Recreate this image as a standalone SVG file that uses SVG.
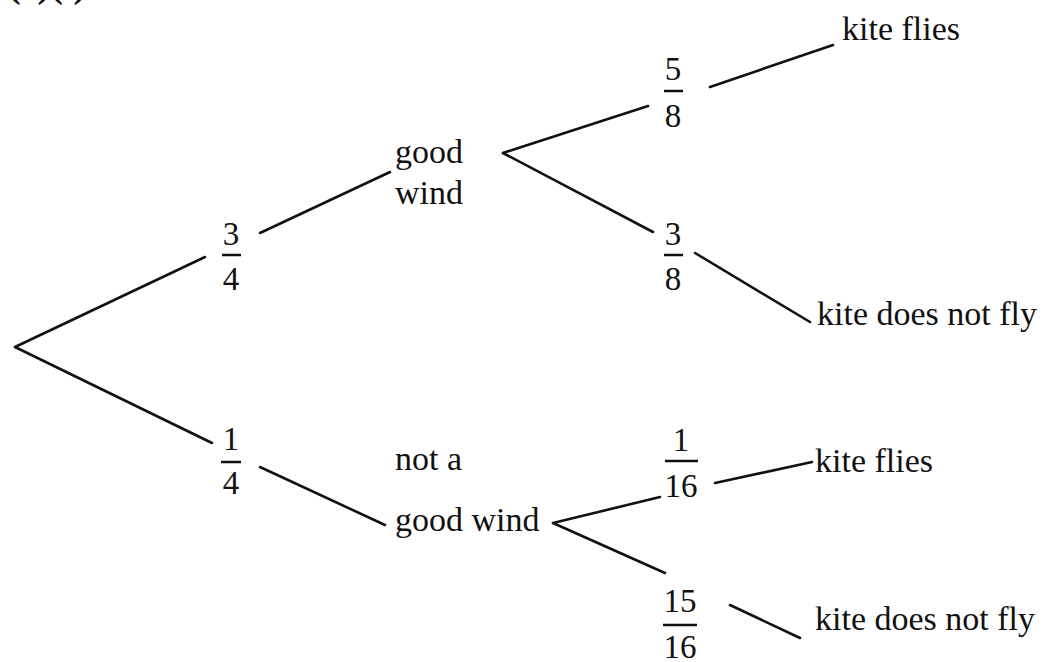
<svg xmlns="http://www.w3.org/2000/svg" width="1047" height="662" viewBox="0 0 1047 662">
<style>
.t{font-family:"Liberation Serif","Times New Roman",serif;font-size:34px;fill:#111}
.f{font-family:"Liberation Serif","Times New Roman",serif;font-size:33px;fill:#111;text-anchor:middle}
.bar{stroke:#111;stroke-width:2.5}
.c line{stroke:#111;stroke-width:2.6;stroke-linecap:round}
</style>
<rect width="1047" height="662" fill="#fff"/>
<text x="8" y="-3" style="font-family:'Liberation Serif',serif;font-size:38px;font-weight:bold;fill:#111">(c)(i)</text>
<g id="connectors" class="c">
<line x1="15" y1="347" x2="205" y2="257"/>
<line x1="15" y1="347" x2="212" y2="443"/>
<line x1="260" y1="233" x2="390" y2="172"/>
<line x1="260" y1="467" x2="385" y2="525"/>
<line x1="503" y1="153" x2="648" y2="106"/>
<line x1="503" y1="153" x2="653" y2="232"/>
<line x1="710" y1="87" x2="833" y2="45"/>
<line x1="695" y1="253" x2="810" y2="322"/>
<line x1="553" y1="523" x2="660" y2="497"/>
<line x1="553" y1="523" x2="665" y2="573"/>
<line x1="715" y1="483" x2="812" y2="462"/>
<line x1="730" y1="605" x2="800" y2="638"/>
</g>
<g id="p-3-4"><text class="f" x="231" y="245">3</text><line class="bar" x1="222" y1="255" x2="241" y2="255"/><text class="f" x="231" y="290">4</text></g>
<g id="p-1-4"><text class="f" x="231" y="450">1</text><line class="bar" x1="221" y1="462" x2="241" y2="462"/><text class="f" x="231" y="494">4</text></g>
<g id="good-wind"><text class="t" x="395" y="163">good</text><text class="t" x="395" y="204">wind</text></g>
<g id="not-good-wind"><text class="t" x="395" y="470">not a</text><text class="t" x="395" y="531">good wind</text></g>
<g id="p-5-8"><text class="f" x="673" y="80">5</text><line class="bar" x1="664" y1="91" x2="683" y2="91"/><text class="f" x="673" y="127">8</text></g>
<g id="p-3-8"><text class="f" x="673" y="245">3</text><line class="bar" x1="664" y1="255" x2="683" y2="255"/><text class="f" x="673" y="290">8</text></g>
<g id="p-1-16"><text class="f" x="681" y="451">1</text><line class="bar" x1="665" y1="461" x2="698" y2="461"/><text class="f" x="681" y="497">16</text></g>
<g id="p-15-16"><text class="f" x="680" y="612">15</text><line class="bar" x1="663" y1="625" x2="697" y2="625"/><text class="f" x="680" y="658">16</text></g>
<g id="kite-flies-1"><text class="t" x="842" y="40">kite flies</text></g>
<g id="kite-not-1"><text class="t" x="817" y="325">kite does not fly</text></g>
<g id="kite-flies-2"><text class="t" x="815" y="472">kite flies</text></g>
<g id="kite-not-2"><text class="t" x="815" y="630">kite does not fly</text></g>
</svg>
